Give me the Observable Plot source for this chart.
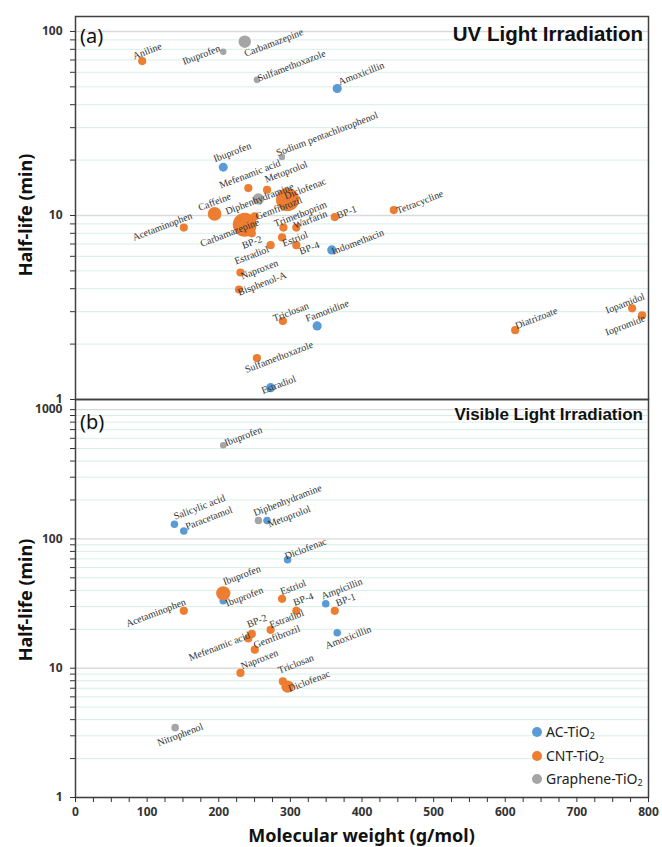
<!DOCTYPE html>
<html><head><meta charset="utf-8">
<script src="https://cdn.jsdelivr.net/npm/d3@7"></script>
<script src="https://cdn.jsdelivr.net/npm/@observablehq/plot@0.6"></script>
<style>
body{margin:0;background:#fff;}
#wrap{position:relative;width:662px;height:847px;overflow:hidden;background:#fff;}
#wrap svg{display:block;}
.ov{position:absolute;white-space:nowrap;line-height:1;color:#111;}
.ytitle{font:bold 18px 'Noto Sans',sans-serif;transform:translate(-50%,-50%) rotate(-90deg);}
.leg{position:absolute;font:14px 'Noto Sans',sans-serif;color:#222;white-space:nowrap;line-height:18px;}
.leg i{position:absolute;width:10px;height:10px;border-radius:50%;left:-14px;top:4px;}
.leg sub{font-size:9px;vertical-align:-2px;}
</style></head><body><div id="wrap"></div>
<script>
// Catalysts (series)
const catalysts = ["AC-TiO2", "CNT-TiO2", "Graphene-TiO2"];
const catalystCodes = ["AC", "CNT", "GR"];
const catalystColors = ["#5B9BD5", "#ED7D31", "#A5A5A5"];

// Panel (a) UV light irradiation
const uvCompound = ["Aniline","Ibuprofen","Carbamazepine","Sulfamethoxazole","Amoxicillin","Ibuprofen","Sodium pentachlorophenol","Mefenamic acid","Metoprolol","Diphenhydramine","Diclofenac","Caffeine","Acetaminophen","Carbamazepine","Gemfibrozil","BP-2","Trimethoprim","Warfarin","BP-1","Estriol","Estradiol","BP-4","Indomethacin","Tetracycline","Naproxen","Bisphenol-A","Triclosan","Famotidine","Sulfamethoxazole","Estradiol","Diatrizoate","Iopamidol","Iopromide"];
const uvCatalyst = ["CNT","GR","GR","GR","AC","AC","GR","CNT","CNT","GR","CNT","CNT","CNT","CNT","CNT","CNT","CNT","CNT","CNT","CNT","CNT","CNT","AC","CNT","CNT","CNT","CNT","AC","CNT","AC","CNT","CNT","CNT"];
const uvMW = [93.1,206.3,236.3,253.3,365.4,206.3,288.3,241.3,267.4,255.4,296.1,194.2,151.2,236.3,250.3,246.2,290.3,308.3,362,288.4,272.4,308.3,357.8,444.4,230.3,228.3,289.5,337.4,253.3,272.4,613.9,777.1,791.1];
const uvHalfLife = [69,77.5,88,54.6,49,18.3,20.8,14.1,13.8,12.3,12.2,10.2,8.6,8.9,9.9,8.0,8.6,8.6,9.8,7.6,6.9,6.9,6.5,10.7,4.9,3.96,2.67,2.51,1.68,1.16,2.38,3.13,2.87];
const uvBubble = [1,0.62,2.3,0.65,1.25,1.2,0.6,1,1,1.9,8,2.8,1,8.5,1,1,1,1,1,1,1,1,1.25,1,1,1,1,1.25,1,1.25,1,1,1];
// label nudges (px) for panel (a)
const uvLabelDx = [5,-22,29,34.5,24,9,45,1.5,19,1,17.5,0,-21.5,-15,24,0,17,14,12,13,-19,13,26,26,19,23,8,10,22,8,21,-7,-17];
const uvLabelDy = [-10,3,1,-14,-15,-15,-23,-14,-18,0,-11,-12,-1,8,-8,9,-13.5,-8,-5,1.5,10,3,-8,-8,-3,-6,-9,-15,-1,-3,-12,-5,10];

// Panel (b) visible light irradiation
const visCompound = ["Ibuprofen","Salicylic acid","Paracetamol","Diphenhydramine","Metoprolol","Diclofenac","Ibuprofen","Ibuprofen","Acetaminophen","Mefenamic acid","BP-2","Gemfibrozil","Estradiol","Estriol","BP-4","Ampicillin","BP-1","Amoxicillin","Naproxen","Triclosan","Diclofenac","Nitrophenol"];
const visCatalyst = ["GR","AC","AC","GR","AC","AC","CNT","AC","CNT","CNT","CNT","CNT","CNT","CNT","CNT","AC","CNT","AC","CNT","CNT","CNT","GR"];
const visMW = [206.3,138.1,151.2,255.4,267.4,296.1,206.3,206.3,151.2,241.3,246.2,250.3,272.4,288.4,308.3,349.4,362,365.4,230.3,289.5,296.1,139.1];
const visHalfLife = [530,130,115,139,139,69,38,33.3,27.8,17.0,18.4,13.9,19.8,34.4,27.8,31.5,27.8,18.8,9.2,7.9,7.2,3.47];
const visBubble = [0.65,0.85,0.85,0.85,0.85,0.85,3,0.85,1,1,1,1,1,1,1,0.85,1,0.85,1,1,2.3,0.85];
const visLabelDx = [20,25,25,29,22,18,18.5,21,-28,-29,5,22,16,11,7,16,11,11,19,13,21.5,5];
const visLabelDy = [-9,-17,-13,-20,-4,-11,-18,-4,2,8,-13,-13,-11,-11.5,-11.5,-15,-11,4.5,-13.5,-17.5,-5.5,7];

// Axis ticks
const yTicksUV = [1,2,3,4,5,6,7,8,9,10,20,30,40,50,60,70,80,90,100];
const yLabelsUV = [1,10,100];
const yTicksVis = [1,2,3,4,5,6,7,8,9,10,20,30,40,50,60,70,80,90,100,200,300,400,500,600,700,800,900,1000];
const yLabelsVis = [1,10,100,1000];
const xTickLabels = [0,100,200,300,400,500,600,700,800];
const xMinorTicks = [0,25,50,75,100,125,150,175,200,225,250,275,300,325,350,375,400,425,450,475,500,525,550,575,600,625,650,675,700,725,750,775,800];

function rowsOf(comp, cat, mw, hl, bub, ldx, ldy) {
  return comp.map((c, i) => ({compound: c, catalyst: cat[i], mw: mw[i], hl: hl[i], size: bub[i], ldx: ldx[i], ldy: ldy[i]}));
}
const uvRows = rowsOf(uvCompound, uvCatalyst, uvMW, uvHalfLife, uvBubble, uvLabelDx, uvLabelDy);
const visRows = rowsOf(visCompound, visCatalyst, visMW, visHalfLife, visBubble, visLabelDx, visLabelDy);

function panel({rows, yDomain, yTicks, yLabels, height, marginTop, marginBottom, withX}) {
  const minor = yTicks.filter(t => !yLabels.includes(t));
  const marks = [
    Plot.ruleY(minor, {stroke: "#d6efe8", strokeWidth: 1}),
    Plot.ruleY(yLabels, {stroke: "#dadada", strokeWidth: 1.4}),
    ...catalystCodes.map((code, i) => Plot.dot(rows.filter(r => r.catalyst === code), {x: "mw", y: "hl", r: "size", fill: catalystColors[i], stroke: "none"})),
    ...rows.map(r => Plot.text([r], {x: "mw", y: "hl", text: "compound", dx: r.ldx, dy: r.ldy, rotate: -21, textAnchor: "middle", fontFamily: "'Liberation Serif', serif", fontSize: 10, fill: "#333"})),
    Plot.axisY({ticks: yTicks, tickFormat: d => yLabels.includes(d) ? String(d) : "", tickSize: 5, tickPadding: 8, fontSize: 12, fontWeight: "bold", label: null, color: "#333"}),
    Plot.frame({stroke: "#404040", strokeWidth: 1.5})
  ];
  if (withX) marks.push(Plot.axisX({ticks: xMinorTicks, tickFormat: d => xTickLabels.includes(d) ? String(d) : "", tickSize: 5, tickPadding: 5, fontSize: 12, fontWeight: "bold", label: null, color: "#333"}));
  return Plot.plot({
    width: 662, height, marginLeft: 75, marginRight: 14, marginTop, marginBottom,
    x: {domain: [0, 800], axis: null},
    y: {type: "log", domain: yDomain, axis: null},
    r: {type: "sqrt", domain: [0, 1], range: [0, 4.1]},
    style: {fontFamily: "'Noto Sans', sans-serif", background: "white", overflow: "visible"},
    marks
  });
}

const wrap = document.getElementById("wrap");
wrap.appendChild(panel({rows: uvRows, yDomain: [1, 120.6], yTicks: yTicksUV, yLabels: yLabelsUV, height: 399, marginTop: 16, marginBottom: 0, withX: false}));
wrap.appendChild(panel({rows: visRows, yDomain: [1, 1197], yTicks: yTicksVis, yLabels: yLabelsVis, height: 449, marginTop: 0, marginBottom: 51, withX: true}));

function ov(html, style, cls) {
  const d = document.createElement("div");
  d.className = cls || "ov";
  d.innerHTML = html;
  Object.assign(d.style, style);
  wrap.appendChild(d);
  return d;
}
ov("(a)", {left: "80px", top: "22px", font: "20px 'Noto Sans',sans-serif"});
ov("UV Light Irradiation", {right: "19px", top: "22px", font: "bold 20.5px 'Liberation Sans',Arial,sans-serif"});
ov("(b)", {left: "80px", top: "408px", font: "20px 'Noto Sans',sans-serif"});
ov("Visible Light Irradiation", {right: "19px", top: "405px", font: "bold 17px 'Liberation Sans',Arial,sans-serif"});
ov("Half-life (min)", {left: "25px", top: "215px"}, "ov ytitle");
ov("Half-life (min)", {left: "25px", top: "600px"}, "ov ytitle");
ov("Molecular weight (g/mol)", {left: "361.5px", top: "835px", font: "bold 18px 'Noto Sans',sans-serif", transform: "translate(-50%,-50%)"});

const legY = [732, 755.5, 779];
catalysts.forEach((c, i) => {
  const label = c.replace("TiO2", "TiO<sub>2</sub>");
  ov(`<i style="background:${catalystColors[i]}"></i>${label}`, {left: "546px", top: (legY[i] - 9) + "px"}, "leg");
});
</script></body></html>
